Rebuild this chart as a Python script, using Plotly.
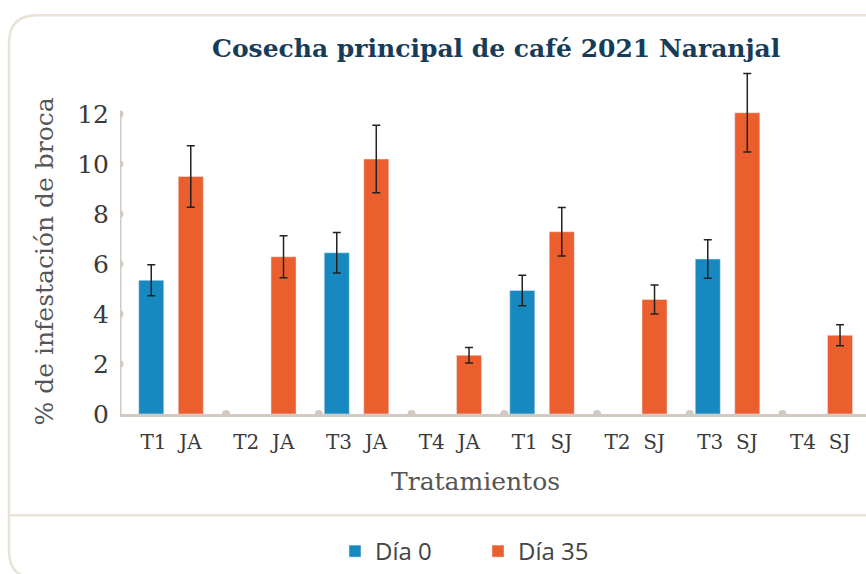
import plotly.graph_objects as go

categories = ["T1\u00a0\u00a0JA", "T2\u00a0\u00a0JA", "T3\u00a0\u00a0JA", "T4\u00a0\u00a0JA",
              "T1\u00a0\u00a0SJ", "T2\u00a0\u00a0SJ", "T3\u00a0\u00a0SJ", "T4\u00a0\u00a0SJ"]
dia0 = [5.35, None, 6.45, None, 4.94, None, 6.2, None]
err0 = [0.62, None, 0.81, None, 0.61, None, 0.77, None]
dia35 = [9.5, 6.29, 10.2, 2.35, 7.29, 4.58, 12.05, 3.15]
err35 = [1.23, 0.84, 1.35, 0.31, 0.97, 0.58, 1.57, 0.42]
y_ticks = [0, 2, 4, 6, 8, 10, 12]

W, H = 866, 574
L, R_, T, B = 120, 0, 64, 159
pw, ph = W - L - R_, H - T - B

def px(x):
    return (x - L) / pw

def py(y):
    return (H - B - y) / ph

SLAB = "DejaVu Serif, serif"
BLUE = "#1789c0"
ORANGE = "#eb5f2f"
AXIS = "#d2cac0"
FRAME = "#e9e2d6"

fig = go.Figure()
fig.add_trace(go.Bar(x=categories, y=dia0, name="Día 0", marker_color=BLUE,
                     error_y=dict(type="data", array=err0, color="#222222", thickness=1.5, width=4)))
fig.add_trace(go.Bar(x=categories, y=dia35, name="Día 35", marker_color=ORANGE,
                     error_y=dict(type="data", array=err35, color="#222222", thickness=1.5, width=4)))

shapes = []
fx0, fy0, r = 9, 15, 28
fy1 = 580
frame_path = (f"M {px(900)},{py(fy1)} L {px(fx0 + r)},{py(fy1)} "
              f"Q {px(fx0)},{py(fy1)} {px(fx0)},{py(fy1 - r)} "
              f"L {px(fx0)},{py(fy0 + r)} Q {px(fx0)},{py(fy0)} {px(fx0 + r)},{py(fy0)} "
              f"L {px(900)},{py(fy0)}")
shapes.append(dict(type="path", path=frame_path, xref="paper", yref="paper",
                   line=dict(color=FRAME, width=2.5), layer="below"))
shapes.append(dict(type="line", xref="paper", yref="paper", x0=px(fx0), x1=px(900),
                   y0=py(516.5), y1=py(516.5), line=dict(color=FRAME, width=2.5), layer="below"))
xa = -0.55
shapes.append(dict(type="line", xref="x", yref="y", x0=xa, x1=xa, y0=0, y1=12,
                   line=dict(color=AXIS, width=3), layer="above"))
for v in y_ticks[1:]:
    shapes.append(dict(type="circle", xref="x", yref="y", xsizemode="pixel", ysizemode="pixel",
                       xanchor=xa, yanchor=v, x0=-3.5, x1=3.5, y0=-3.5, y1=3.5,
                       fillcolor=AXIS, line=dict(width=0)))
for i in range(len(categories) - 1):
    shapes.append(dict(type="circle", xref="x", yref="y", xsizemode="pixel", ysizemode="pixel",
                       xanchor=i + 0.593, yanchor=0, x0=-4, x1=4, y0=-4, y1=4,
                       fillcolor=AXIS, line=dict(width=0)))

annotations = [
    dict(text="<b>Cosecha principal de café 2021 Naranjal</b>", xref="paper", yref="paper",
         x=px(496), y=py(48), showarrow=False, xanchor="center", yanchor="middle",
         font=dict(family=SLAB, size=25, color="#173c5a")),
    dict(text="% de infestación de broca", xref="paper", yref="paper",
         x=px(44), y=py(262), showarrow=False, textangle=-90, xanchor="center", yanchor="middle",
         font=dict(family=SLAB, size=25, color="#555555")),
    dict(text="Tratamientos", xref="paper", yref="paper",
         x=px(475), y=py(483), showarrow=False, xanchor="center", yanchor="middle",
         font=dict(family=SLAB, size=25, color="#555555")),
]

fig.update_layout(
    width=W, height=H,
    margin=dict(l=L, r=R_, t=T, b=B, pad=0),
    paper_bgcolor="white", plot_bgcolor="white",
    barmode="group", bargap=0.148, bargroupgap=0.366,
    showlegend=True,
    legend=dict(orientation="h", x=px(335), y=py(553), xanchor="left", yanchor="middle",
                font=dict(family="Open Sans, sans-serif", size=24, color="#444444"),
                entrywidth=98, entrywidthmode="pixels", bgcolor="rgba(0,0,0,0)"),
    xaxis=dict(range=[-0.55, 7.493], showgrid=False, zeroline=False,
               showline=True, linecolor=AXIS, linewidth=3, ticks="",
               tickfont=dict(family=SLAB, size=20, color="#3a3a3a"), ticklabelstandoff=8),
    yaxis=dict(range=[0, 14], showgrid=False, zeroline=False, showline=False,
               tickvals=y_ticks, ticks="", tickfont=dict(family=SLAB, size=25, color="#3a3a3a"),
               ticklabelstandoff=10),
    shapes=shapes, annotations=annotations,
)

fig.write_html("out.html", post_script="document.body.style.margin='0';",
               config={"displayModeBar": False})
